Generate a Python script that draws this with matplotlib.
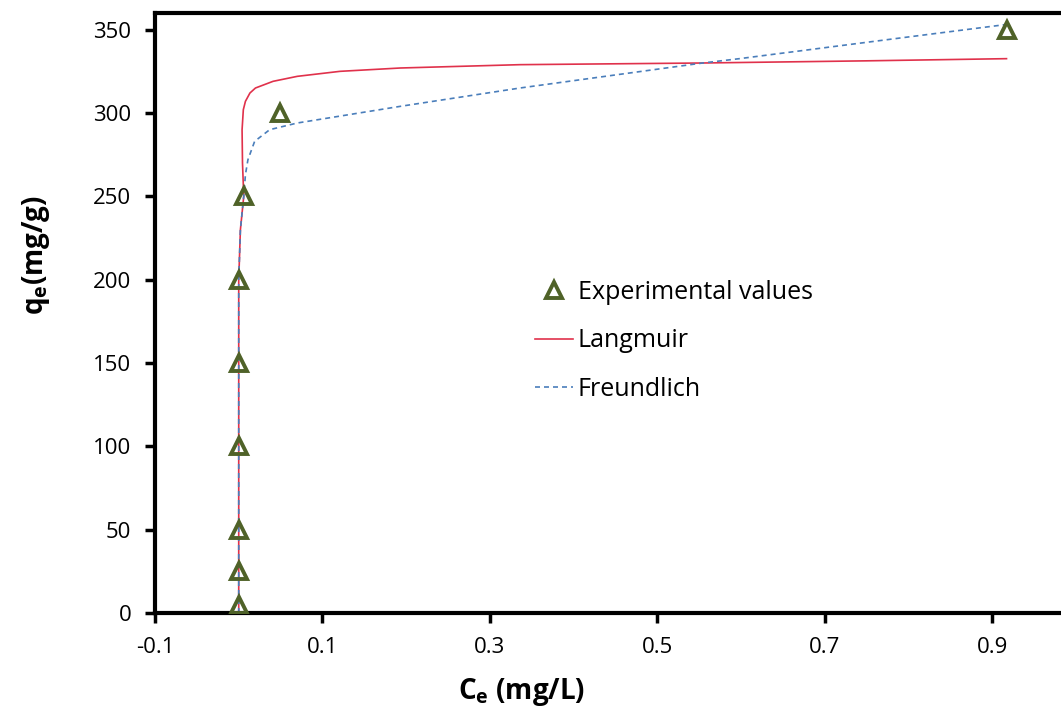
import matplotlib
matplotlib.use("Agg")
import matplotlib.pyplot as plt

# dados experimentais
ce_exp = [0.0, 0.0, 0.0, 0.0, 0.0, 0.0, 0.006, 0.049, 0.917]
qe_exp = [5, 25, 50, 100, 150, 200, 250, 300, 350]

# curva de Langmuir
ce_lang = [0.0, 0.0, 0.0, 0.0, 0.002, 0.006, 0.0045, 0.004, 0.0055, 0.008,
           0.0134, 0.02, 0.041, 0.07, 0.121, 0.193, 0.336, 0.554, 0.75, 0.917]
qe_lang = [0, 50, 100, 200, 230, 250, 270, 290, 302, 307,
           312, 315, 319, 322, 325, 327, 329, 330, 331.3, 332.6]

# curva de Freundlich
ce_freu = [0.0, 0.0, 0.0, 0.0, 0.002, 0.006, 0.008, 0.011, 0.019, 0.037,
           0.07, 0.193, 0.336, 0.554, 0.598, 0.79, 0.837, 0.915]
qe_freu = [0, 50, 100, 200, 230, 250, 263, 272, 283, 290,
           294, 304, 315, 330, 332.6, 345, 348, 353]

xticks = [-0.1, 0.1, 0.3, 0.5, 0.7, 0.9]
yticks = [0, 50, 100, 150, 200, 250, 300, 350]

plt.rcParams['font.family'] = ['Open Sans', 'DejaVu Sans']

fig = plt.figure(figsize=(10.61, 7.24), dpi=100)
ax = fig.add_axes([155/1061, 111/724, 921/1061, 600/724])

ax.plot(ce_lang, qe_lang, color='#e0314b', lw=1.2, label='Langmuir', zorder=2)
ax.plot(ce_freu, qe_freu, color='#4a7ebb', lw=1.2, dashes=(3, 2.4),
        label='Freundlich', zorder=2)
ax.plot(ce_exp, qe_exp, linestyle='none', marker='^', markersize=11,
        markerfacecolor='none', markeredgecolor='#4f6228', markeredgewidth=2.8,
        label='Experimental values', zorder=3)

ax.set_xlim(-0.1, 1.0)
ax.set_ylim(0, 360)
ax.set_xticks(xticks)
ax.set_xticklabels([str(t) for t in xticks])
ax.set_yticks(yticks)
ax.tick_params(axis='both', direction='out', length=7, width=2.5,
               labelsize=16, pad=10)

for lado in ['left', 'bottom', 'top', 'right']:
    ax.spines[lado].set_linewidth(3)

ax.set_xlabel(r'C$_\mathregular{e}$ (mg/L)', fontsize=20, fontweight='bold')
ax.set_ylabel(r'q$_\mathregular{e}$(mg/g)', fontsize=20, fontweight='bold')
ax.xaxis.set_label_coords(0.398, -0.105)
ax.yaxis.set_label_coords(-0.112, 0.597)

handles, labels = ax.get_legend_handles_labels()
ordem = [2, 0, 1]
fig.legend([handles[i] for i in ordem], [labels[i] for i in ordem],
           loc='upper left', bbox_to_anchor=(535/1061, 1 - 280/724),
           frameon=False, fontsize=18, handlelength=1.5, handletextpad=0.2,
           labelspacing=0.93, borderpad=0, borderaxespad=0)

fig.savefig('out.png', dpi=100)
